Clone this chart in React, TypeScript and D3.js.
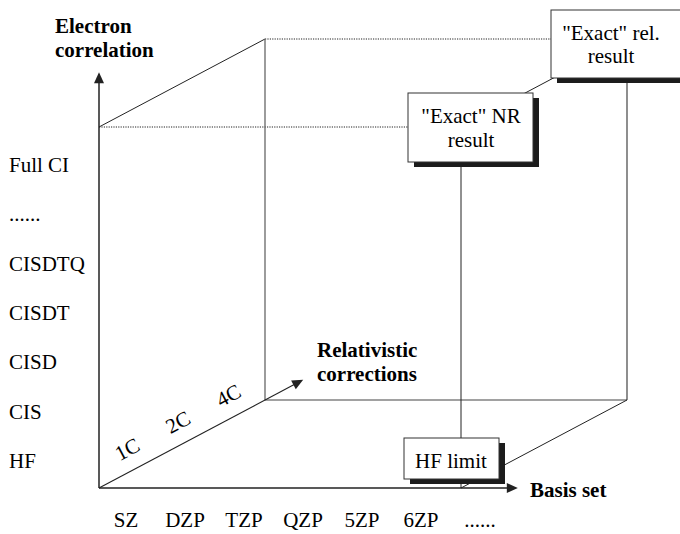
import React from "react";
import * as d3 from "d3";

// ---- data ----
const correlationLevels = ["HF", "CIS", "CISD", "CISDT", "CISDTQ", "......", "Full CI"];
const basisSets = ["SZ", "DZP", "TZP", "QZP", "5ZP", "6ZP", "......"];
const relativisticLevels = ["1C", "2C", "4C"];
const correlationTitle = ["Electron", "correlation"];
const relativisticTitle = ["Relativistic", "corrections"];
const basisTitle = ["Basis set"];
const resultBoxes = [
  { id: "hf", lines: ["HF limit"], corner: [1, 0, 0] },
  { id: "nr", lines: ['"Exact" NR', "result"], corner: [1, 1, 0] },
  { id: "rel", lines: ['"Exact" rel.', "result"], corner: [1, 1, 1] },
];

const W = 680;
const H = 534;
const FONT = '"Liberation Serif", "Times New Roman", "DejaVu Serif", serif';
const FS = 21;

export default function App() {
  // projection scales for the "cube"
  const xB = d3.scaleLinear().domain([0, 1]).range([99, 461]);
  const yC = d3.scaleLinear().domain([0, 1]).range([488, 127]);
  const dX = d3.scaleLinear().domain([0, 1]).range([0, 166]);
  const dY = d3.scaleLinear().domain([0, 1]).range([0, -88]);
  const P = (b: number, c: number, r: number): [number, number] => [xB(b) + dX(r), yC(c) + dY(r)];

  const yLevel = d3.scalePoint<string>().domain(correlationLevels).range([468, 172]);
  const xBasis = d3.scalePoint<string>().domain(basisSets).range([126, 480]);
  const tRel = d3.scalePoint<string>().domain(relativisticLevels).range([0.23, 0.84]);

  const line = d3.line();
  const seg = (a: [number, number], b: [number, number]) => line([a, b]) as string;

  const angle = (Math.atan2(dY(1), dX(1)) * 180) / Math.PI;

  const arrowHead = (tip: [number, number], from: [number, number], len = 11, half = 5) => {
    const dx = tip[0] - from[0];
    const dy = tip[1] - from[1];
    const L = Math.hypot(dx, dy);
    const ux = dx / L, uy = dy / L;
    const bx = tip[0] - ux * len, by = tip[1] - uy * len;
    const pts: [number, number][] = [
      tip,
      [bx - uy * half, by + ux * half],
      [bx + uy * half, by - ux * half],
    ];
    return (d3.line()(pts) as string) + "Z";
  };

  const origin = P(0, 0, 0);
  const yTip = P(0, 1.152, 0);
  const xTip = P(1.157, 0, 0);
  const rTip = P(0, 0, 1.23);

  const shorten = (tip: [number, number], from: [number, number], by: number): [number, number] => {
    const dx = tip[0] - from[0], dy = tip[1] - from[1];
    const L = Math.hypot(dx, dy);
    return [tip[0] - (dx / L) * by, tip[1] - (dy / L) * by];
  };

  const boxGeom: Record<string, { dx: number; dy: number; w: number; h: number; tx: number; base: number[] }> = {
    hf: { dx: -57, dy: -50, w: 95, h: 41, tx: -10, base: [-20] },
    nr: { dx: -53, dy: -34, w: 125, h: 69, tx: 10, base: [-4, 20] },
    rel: { dx: -76, dy: -29, w: 140, h: 68, tx: -16, base: [1, 24] },
  };

  const textStyle = { fontFamily: FONT };

  return (
    <svg width={W} height={H} style={{ position: "absolute", left: 0, top: 0, background: "#fff" }}>
      {/* dotted guide lines */}
      <g stroke="#222" strokeWidth={1} strokeDasharray="1.2,1.2" fill="none">
        <path d={seg(P(0, 1, 0), P(1, 1, 0))} />
        <path d={seg(P(0, 1, 1), P(1, 1, 1))} />
      </g>
      {/* cube edges */}
      <g fill="none" strokeWidth={1}>
        <path d={seg(P(0, 1, 0), P(0, 1, 1))} stroke="#222" />
        <path d={seg(P(0, 0, 1), P(0, 1, 1))} stroke="#666" strokeWidth={1.3} />
        <path d={seg(P(0, 0, 1), P(1, 0, 1))} stroke="#444" strokeWidth={1.2} />
        <path d={seg(P(1, 0, 1), P(1, 1, 1))} stroke="#444" strokeWidth={1.2} />
        <path d={seg(P(1, 0, 0), P(1, 1, 0))} stroke="#222" />
        <path d={seg(P(1, 0, 1), P(1, 0, 0))} stroke="#222" />
        <path d={seg(P(1, 1, 0), P(1, 1, 1))} stroke="#222" />
      </g>
      {/* axes */}
      <g stroke="#222" fill="none">
        <path d={seg(origin, shorten(yTip, origin, 8))} strokeWidth={1.5} />
        <path d={seg(origin, shorten(xTip, origin, 8))} strokeWidth={1.5} />
        <path d={seg(origin, shorten(rTip, origin, 8))} strokeWidth={1.1} />
      </g>
      <g fill="#222">
        <path d={arrowHead(yTip, origin)} />
        <path d={arrowHead(xTip, origin)} />
        <path d={arrowHead(rTip, origin)} />
      </g>

      {/* result boxes */}
      {resultBoxes.map((b) => {
        const [cx, cy] = P(b.corner[0], b.corner[1], b.corner[2]);
        const g = boxGeom[b.id];
        const x = cx + g.dx, y = cy + g.dy;
        return (
          <g key={b.id}>
            <rect x={x + 6} y={y + 5} width={g.w} height={g.h} fill="#1c1c1c" />
            <rect x={x} y={y} width={g.w} height={g.h} fill="#fff" stroke="#333" strokeWidth={1} />
            {b.lines.map((t, i) => (
              <text key={i} x={cx + g.tx} y={cy + g.base[i]} textAnchor="middle" fontSize={FS} fill="#000" style={textStyle}>
                {t}
              </text>
            ))}
          </g>
        );
      })}

      {/* correlation level labels */}
      <g fontSize={FS} fill="#000" style={textStyle}>
        {correlationLevels.map((l) => (
          <text key={l} x={9} y={yLevel(l)} style={textStyle}>
            {l}
          </text>
        ))}
      </g>
      {/* basis set labels */}
      <g fontSize={FS} fill="#000" textAnchor="middle" style={textStyle}>
        {basisSets.map((l) => (
          <text key={l} x={xBasis(l)} y={527} style={textStyle}>
            {l}
          </text>
        ))}
      </g>
      {/* relativistic labels */}
      <g fontSize={FS} fill="#000" textAnchor="middle" style={textStyle}>
        {relativisticLevels.map((l) => {
          const t = tRel(l) as number;
          const [px, py] = P(0, 0, t);
          const off = 21;
          const nx = Math.sin((angle * Math.PI) / 180) * off;
          const ny = -Math.cos((angle * Math.PI) / 180) * off;
          const x = px + nx, y = py + ny + 7;
          return (
            <text key={l} x={x} y={y} transform={`rotate(${angle},${x},${y - 7})`} style={textStyle}>
              {l}
            </text>
          );
        })}
      </g>
      {/* axis titles */}
      <g fontSize={FS} fontWeight="bold" fill="#000" style={textStyle}>
        <text x={55} y={33} style={textStyle}>{correlationTitle[0]}</text>
        <text x={55} y={57} style={textStyle}>{correlationTitle[1]}</text>
        <text x={317} y={357} style={textStyle}>{relativisticTitle[0]}</text>
        <text x={317} y={381} style={textStyle}>{relativisticTitle[1]}</text>
        <text x={530} y={497} style={textStyle}>{basisTitle[0]}</text>
      </g>
    </svg>
  );
}
